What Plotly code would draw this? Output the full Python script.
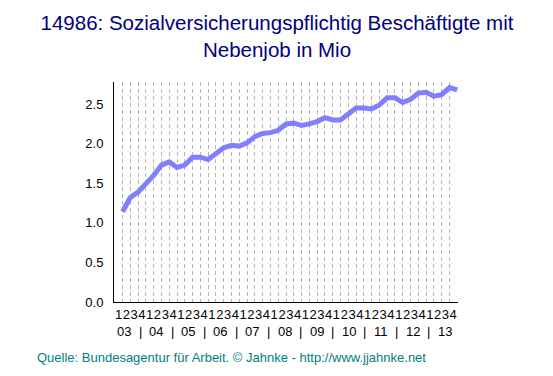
import plotly.graph_objects as go

years = ["03", "04", "05", "06", "07", "08", "09", "10", "11", "12", "13"]
quarters = ["1", "2", "3", "4"]
values = [
    1.14, 1.32, 1.39, 1.49,
    1.60, 1.73, 1.77, 1.70,
    1.73, 1.83, 1.83, 1.80,
    1.87, 1.95, 1.98, 1.97,
    2.01, 2.09, 2.13, 2.14,
    2.17, 2.25, 2.26, 2.23,
    2.25, 2.28, 2.33, 2.30,
    2.30, 2.38, 2.45, 2.45,
    2.44, 2.49, 2.58, 2.58,
    2.52, 2.56, 2.64, 2.65,
    2.60, 2.62, 2.71, 2.68,
]
y_ticks = [0.0, 0.5, 1.0, 1.5, 2.0, 2.5]

n = len(values)
xs = list(range(n))
qlabels = [quarters[i % 4] for i in xs]

# page body adds an 8px offset; figure coordinates below are page coords - 8
OFF = 8
W, H = 553 - OFF, 376 - OFF
L, R, T, B = 114 - OFF, W - (458 - OFF), 82 - OFF, H - (302 - OFF)
pw, ph = W - L - R, H - T - B
FONT = "Liberation Sans, Arial"

fig = go.Figure()
fig.add_trace(go.Scatter(
    x=xs, y=values, mode="lines",
    line=dict(color="#8080FF", width=5),
    hoverinfo="skip", showlegend=False,
))

annotations = []
year_y = -(331 - 302) / ph
year_x0, year_step = 124, 32.1  # page px: year row is a text line under the quarters
for k, yr in enumerate(years):
    cx = year_x0 + year_step * k
    annotations.append(dict(
        x=(cx - 114) / pw, y=year_y, xref="paper", yref="paper",
        text=yr, showarrow=False, yanchor="middle", xanchor="center",
        font=dict(size=13, color="#000000", family=FONT),
    ))
    if k < len(years) - 1:
        annotations.append(dict(
            x=(cx + year_step / 2 - 114) / pw, y=year_y, xref="paper", yref="paper",
            text="|", showarrow=False, yanchor="middle", xanchor="center",
            font=dict(size=13, color="#000000", family=FONT),
        ))
annotations.append(dict(
    x=(35 - 114) / pw, y=(302 - 357) / ph, xref="paper", yref="paper",
    text="Quelle: Bundesagentur für Arbeit. © Jahnke - http://www.jjahnke.net",
    showarrow=False, xanchor="left", yanchor="middle",
    font=dict(size=13, color="#008080", family=FONT),
))

fig.update_layout(
    width=W, height=H,
    margin=dict(l=L, r=R, t=T, b=B, pad=0, autoexpand=False),
    paper_bgcolor="white", plot_bgcolor="white",
    title=dict(
        text="14986: Sozialversicherungspflichtig Beschäftigte mit<br>Nebenjob in Mio",
        x=(277 - OFF) / W, xanchor="center", xref="container", yref="container",
        y=1 - (30 - OFF) / H, yanchor="middle", automargin=False,
        font=dict(size=20.5, color="#000080", family=FONT),
    ),
    font=dict(family=FONT, size=13, color="#000000"),
    xaxis=dict(
        range=[-1.1, n - 1 + 0.1],
        tickmode="array", tickvals=xs, ticktext=qlabels, tickangle=0,
        ticklabelshift=-4,
        showgrid=True, gridcolor="#b4b4b4", gridwidth=1, griddash="4px,3px",
        showline=True, linecolor="#000000", linewidth=1,
        ticks="", zeroline=False, automargin=False,
        tickfont=dict(size=13, color="#000000"),
        fixedrange=True,
    ),
    yaxis=dict(
        range=[0, 2.78],
        tickmode="array", tickvals=y_ticks,
        ticktext=[f"{v:.1f}" for v in y_ticks],
        showgrid=False, showline=True, linecolor="#000000", linewidth=1,
        ticks="", zeroline=False, ticklabelstandoff=7, automargin=False,
        tickfont=dict(size=13, color="#000000"),
        fixedrange=True,
    ),
    annotations=annotations,
    showlegend=False,
)

fig.write_html("out.html")
